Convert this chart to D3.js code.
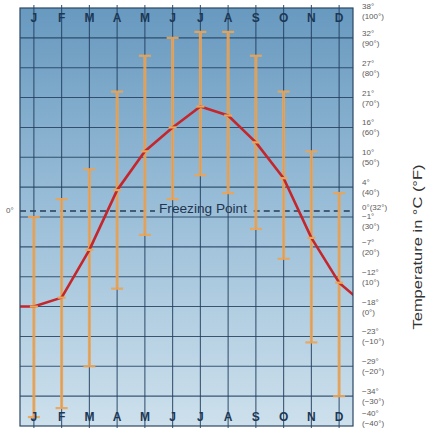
<!DOCTYPE html>
<html>
<head>
<meta charset="utf-8">
<script src="https://cdn.jsdelivr.net/npm/d3@7"></script>
<style>
  html, body { margin: 0; padding: 0; background: #fff; }
  svg { display: block; font-family: "Liberation Sans", Arial, sans-serif; }
</style>
</head>
<body>
<svg id="chart" width="431" height="428"></svg>
<script>
// Monthly temperatures, in °F
const months = ["J", "F", "M", "A", "M", "J", "J", "A", "S", "O", "N", "D"];
const meanTemp = [0, 3, 19, 39, 52, 60, 67, 64, 55, 43, 23, 8];
const maxTemp  = [30, 36, 46, 72, 84, 90, 92, 92, 84, 72, 52, 38];
const minTemp  = [-37, -34, -20, 6, 24, 36, 44, 38, 26, 16, -12, -30];

// Axis ticks: °F values with their °C / °F labels
const tickF      = [100, 90, 80, 70, 60, 50, 40, 30, 20, 10, 0, -10, -20, -30, -40];
const tickCLabel = ["38°", "32°", "27°", "21°", "16°", "10°", "4°", "−1°", "−7°", "−12°", "−18°", "−23°", "−29°", "−34°", "−40°"];
const tickFLabel = ["(100°)", "(90°)", "(80°)", "(70°)", "(60°)", "(50°)", "(40°)", "(30°)", "(20°)", "(10°)", "(0°)", "(−10°)", "(−20°)", "(−30°)", "(−40°)"];
const freezingF = 32;
const freezingLabel = "0°(32°)";

const svg = d3.select("#chart");
const plotL = 20, plotR = 353, plotT = 8, plotB = 426;

const x = d3.scaleBand().domain(d3.range(months.length)).range([plotL, plotR]);
const y = d3.scaleLinear().domain([-40, 100]).range([plotB, plotT]);
const cx = i => x(i) + x.bandwidth() / 2;

// Background gradient
const defs = svg.append("defs");
const grad = defs.append("linearGradient").attr("id", "bg")
  .attr("x1", 0).attr("y1", 0).attr("x2", 0).attr("y2", 1);
grad.append("stop").attr("offset", "0%").attr("stop-color", "#6899bf");
grad.append("stop").attr("offset", "45%").attr("stop-color", "#97bcd7");
grad.append("stop").attr("offset", "100%").attr("stop-color", "#cde0ec");
defs.append("clipPath").attr("id", "plotClip").append("rect")
  .attr("x", plotL).attr("y", plotT).attr("width", plotR - plotL).attr("height", plotB - plotT);

svg.append("rect").attr("x", plotL).attr("y", plotT)
  .attr("width", plotR - plotL).attr("height", plotB - plotT)
  .attr("fill", "url(#bg)");

// Grid
const grid = svg.append("g").attr("stroke", "#22405e").attr("stroke-opacity", 0.85);
grid.selectAll("line.h").data(tickF.filter(v => v < 100 && v > -40)).join("line")
  .attr("class", "h")
  .attr("x1", plotL).attr("x2", plotR)
  .attr("y1", d => y(d)).attr("y2", d => y(d))
  .attr("stroke-width", 1.1);
grid.selectAll("line.v").data(d3.range(months.length)).join("line")
  .attr("class", "v")
  .attr("x1", d => cx(d)).attr("x2", d => cx(d))
  .attr("y1", plotT - 3).attr("y2", plotB + 2)
  .attr("stroke-width", 1.1);

// Freezing point line, broken around its label
const fy = y(freezingF);
const dashG = svg.append("g");
const fText = svg.append("text")
  .attr("x", 203).attr("y", fy + 2)
  .attr("text-anchor", "middle")
  .attr("font-size", 12).attr("fill", "#1f3550")
  .attr("textLength", 88).attr("lengthAdjust", "spacingAndGlyphs")
  .text("Freezing Point");
const tb = fText.node().getBBox();
const dashSegs = [[plotL, tb.x - 4], [tb.x + tb.width + 6, plotR]];
dashG.selectAll("line").data(dashSegs).join("line")
  .attr("x1", d => d[0]).attr("x2", d => d[1])
  .attr("y1", fy).attr("y2", fy)
  .attr("stroke", "#263d55").attr("stroke-width", 1.5)
  .attr("stroke-dasharray", "6,4");

// Range bars (extremes)
const barColor = "#eba557";
const bars = svg.append("g").attr("stroke", barColor).attr("opacity", 0.92);
bars.selectAll("line.bar").data(d3.range(months.length)).join("line")
  .attr("class", "bar")
  .attr("x1", d => cx(d)).attr("x2", d => cx(d))
  .attr("y1", d => y(maxTemp[d])).attr("y2", d => y(minTemp[d]))
  .attr("stroke-width", 3);
const caps = [];
d3.range(months.length).forEach(i => { caps.push([i, maxTemp[i]]); caps.push([i, minTemp[i]]); });
bars.selectAll("line.cap").data(caps).join("line")
  .attr("class", "cap")
  .attr("x1", d => cx(d[0]) - 6).attr("x2", d => cx(d[0]) + 6)
  .attr("y1", d => y(d[1])).attr("y2", d => y(d[1]))
  .attr("stroke-width", 2.2);

// Mean temperature line, entering flat at January and wrapping to next January
const linePts = [[plotL, meanTemp[0]]]
  .concat(meanTemp.map((v, i) => [cx(i), v]))
  .concat([[cx(11) + x.step(), meanTemp[0]]]);
svg.append("path")
  .datum(linePts)
  .attr("clip-path", "url(#plotClip)")
  .attr("fill", "none")
  .attr("stroke", "#c4262b")
  .attr("stroke-width", 2.6)
  .attr("stroke-linejoin", "round")
  .attr("d", d3.line().x(d => d[0]).y(d => y(d[1])));
svg.append("g").attr("stroke", barColor).attr("stroke-width", 2.2)
  .selectAll("line").data(meanTemp).join("line")
  .attr("x1", (d, i) => cx(i) - 4).attr("x2", (d, i) => cx(i) + 4)
  .attr("y1", d => y(d)).attr("y2", d => y(d));

// Plot frame
svg.append("rect").attr("x", plotL).attr("y", plotT)
  .attr("width", plotR - plotL).attr("height", plotB - plotT)
  .attr("fill", "none").attr("stroke", "#2a4664").attr("stroke-width", 1.2);

// Month labels, top and bottom
const mlab = svg.append("g").attr("font-size", 12).attr("font-weight", "bold")
  .attr("fill", "#1d3856").attr("text-anchor", "middle");
mlab.selectAll("text.t").data(months).join("text").attr("class", "t")
  .attr("x", (d, i) => cx(i)).attr("y", 22).text(d => d);
mlab.selectAll("text.b").data(months).join("text").attr("class", "b")
  .attr("x", (d, i) => cx(i)).attr("y", 421).text(d => d);

// Right-hand temperature labels
const rl = svg.append("g").attr("font-size", 8).attr("fill", "#5a5a5a");
tickF.forEach((v, i) => {
  let c = y(v);
  if (c < 11) c = 11;
  if (c > 418) c = 418;
  if (v === 30) c += 4;
  rl.append("text").attr("x", 362).attr("y", c - 2).text(tickCLabel[i]);
  rl.append("text").attr("x", 362).attr("y", c + 8).text(tickFLabel[i]);
});
rl.append("text").attr("x", 362).attr("y", fy - 1).text(freezingLabel);
svg.append("text").attr("x", 6).attr("y", fy + 2)
  .attr("font-size", 8).attr("fill", "#5a5a5a").text("0°");

// Axis title
svg.append("text")
  .attr("transform", `translate(422,${247}) rotate(-90)`)
  .attr("text-anchor", "middle")
  .attr("font-size", 12.5).attr("fill", "#333")
  .attr("textLength", 165).attr("lengthAdjust", "spacingAndGlyphs")
  .text("Temperature in °C (°F)");
</script>
</body>
</html>
